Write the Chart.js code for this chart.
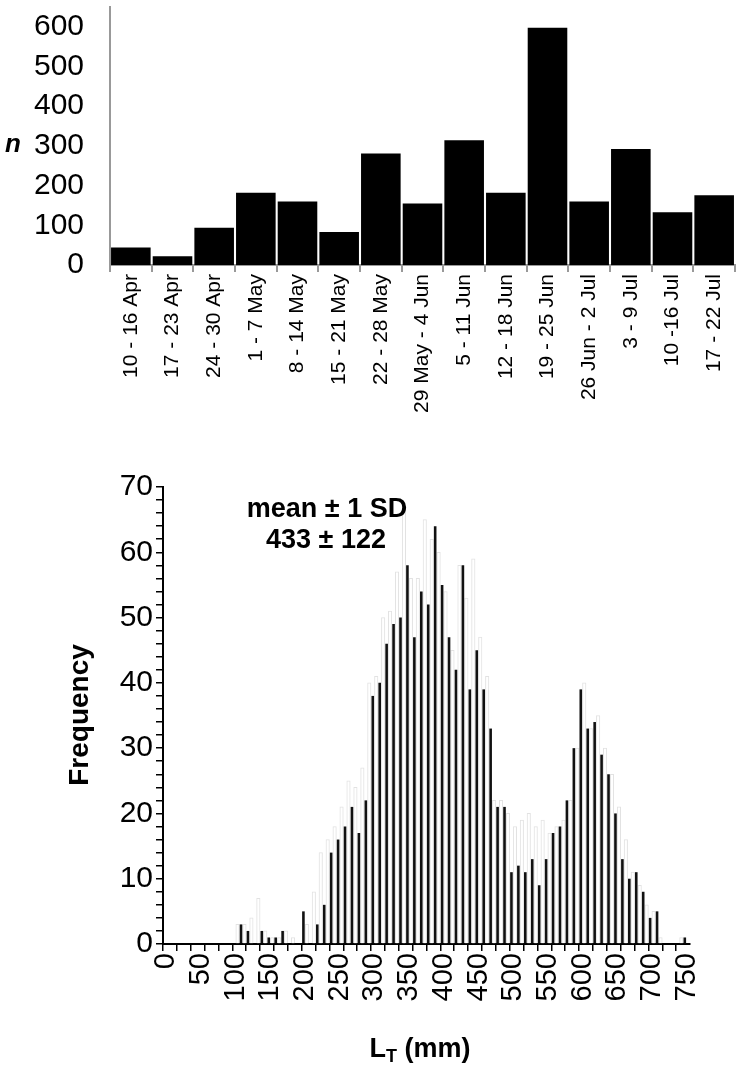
<!DOCTYPE html>
<html>
<head>
<meta charset="utf-8">
<script src="https://cdn.jsdelivr.net/npm/chart.js@4.4.1/dist/chart.umd.min.js"></script>
<style>
  body { margin: 0; background: #fff; }
  #wrap { position: relative; width: 748px; height: 1076px; }
  #top { position: absolute; left: 0; top: 0; }
  #bottom { position: absolute; left: 0; top: 440px; }
</style>
</head>
<body>
<div id="wrap">
  <canvas id="top" width="748" height="430"></canvas>
  <canvas id="bottom" width="748" height="636"></canvas>
</div>
<script>
// weekly catch
var weeks = ['10 - 16 Apr', '17 - 23 Apr', '24 - 30 Apr', '1 - 7 May', '8 - 14 May', '15 - 21 May',
  '22 - 28 May', '29 May - 4 Jun', '5 - 11 Jun', '12 - 18 Jun', '19 - 25 Jun', '26 Jun - 2 Jul',
  '3 - 9 Jul', '10 -16 Jul', '17 - 22 Jul'];
var weeklyN = [44, 22, 94, 182, 160, 83, 281, 155, 314, 182, 598, 160, 292, 133, 176];

// length histogram, 10 mm bins
var lengthBins = ['0', '10', '20', '30', '40', '50', '60', '70', '80', '90',
  '100', '110', '120', '130', '140', '150', '160', '170', '180', '190',
  '200', '210', '220', '230', '240', '250', '260', '270', '280', '290',
  '300', '310', '320', '330', '340', '350', '360', '370', '380', '390',
  '400', '410', '420', '430', '440', '450', '460', '470', '480', '490',
  '500', '510', '520', '530', '540', '550', '560', '570', '580', '590',
  '600', '610', '620', '630', '640', '650', '660', '670', '680', '690',
  '700', '710', '720', '730', '740', '750'];
var freqA = [0, 0, 0, 0, 0, 0, 0, 0, 0, 0,
  0, 3, 2, 0, 2, 1, 1, 2, 0, 0,
  5, 0, 3, 6, 14, 16, 18, 21, 17, 22,
  38, 40, 46, 49, 50, 58, 47, 54, 52, 64,
  55, 47, 42, 58, 39, 45, 39, 33, 21, 21,
  11, 12, 11, 13, 9, 13, 17, 18, 22, 30,
  39, 33, 34, 29, 26, 20, 13, 10, 11, 8,
  4, 5, 0, 0, 0, 1];
var freqB = [0, 0, 0, 0, 0, 0, 0, 0, 0, 0,
  3, 3, 4, 7, 2, 1, 1, 2, 1, 0,
  3, 8, 14, 16, 18, 21, 25, 24, 27, 40,
  41, 50, 51, 57, 67, 56, 56, 65, 62, 60,
  54, 45, 58, 53, 59, 47, 41, 22, 22, 20,
  18, 19, 20, 18, 19, 17, 18, 19, 22, 30,
  40, 33, 35, 30, 26, 21, 16, 11, 9, 6,
  5, 1, 0, 0, 1, 0];

var FONT = 'Liberation Sans';

function makeTexts(items) {
  return {
    id: 'texts',
    afterDraw: function(chart) {
      var ctx = chart.ctx;
      items.forEach(function(t) {
        ctx.save();
        ctx.fillStyle = '#000';
        ctx.textBaseline = 'middle';
        ctx.translate(t.x, t.y);
        if (t.rot) ctx.rotate(t.rot);
        if (t.sub) {
          // main letter + subscript + rest
          ctx.font = t.font;
          var w1 = ctx.measureText(t.text).width;
          ctx.font = t.subFont;
          var w2 = ctx.measureText(t.sub).width;
          ctx.font = t.font;
          var w3 = ctx.measureText(t.rest).width;
          var x0 = -(w1 + w2 + w3) / 2;
          ctx.textAlign = 'left';
          ctx.fillText(t.text, x0, 0);
          ctx.font = t.subFont;
          ctx.fillText(t.sub, x0 + w1, 7);
          ctx.font = t.font;
          ctx.fillText(t.rest, x0 + w1 + w2, 0);
        } else {
          ctx.font = t.font;
          ctx.textAlign = 'center';
          ctx.fillText(t.text, 0, 0);
        }
        ctx.restore();
      });
    }
  };
}

new Chart(document.getElementById('top'), {
  type: 'bar',
  data: {
    labels: weeks,
    datasets: [{
      data: weeklyN,
      backgroundColor: '#000',
      categoryPercentage: 1,
      barPercentage: 0.95
    }]
  },
  options: {
    responsive: false,
    animation: false,
    layout: { padding: { top: 7, right: 13, left: 0, bottom: 0 } },
    plugins: { legend: { display: false }, tooltip: { enabled: false } },
    scales: {
      x: {
        grid: { display: true, drawOnChartArea: false, offset: true, tickLength: 7, color: '#999', lineWidth: 2 },
        border: { color: '#999', width: 2 },
        ticks: {
          color: '#000', autoSkip: false, minRotation: 90, maxRotation: 90, padding: 2,
          font: { family: FONT, size: 21 }
        },
        afterFit: function(s) { s.height = 165; }
      },
      y: {
        min: 0, max: 650,
        grid: { display: false },
        border: { color: '#999', width: 2 },
        ticks: {
          stepSize: 100, color: '#000', padding: 18, autoSkip: false, includeBounds: false,
          font: { family: FONT, size: 30 }
        },
        afterFit: function(s) { s.width = 110; s.paddingTop = 0; s.paddingBottom = 0; }
      }
    }
  },
  plugins: [makeTexts([
    { text: 'n', x: 13, y: 145, font: 'italic bold 26px "Liberation Sans"' }
  ])]
});

new Chart(document.getElementById('bottom'), {
  type: 'bar',
  data: {
    labels: lengthBins,
    datasets: [{
      data: freqA,
      backgroundColor: '#111',
      categoryPercentage: 1,
      barPercentage: 0.75
    }, {
      data: freqB,
      backgroundColor: '#fff',
      borderColor: '#e2e2e2',
      borderWidth: 1,
      categoryPercentage: 1,
      barPercentage: 1
    }]
  },
  options: {
    responsive: false,
    animation: false,
    layout: { padding: { top: 47, right: 58, left: 0, bottom: 0 } },
    plugins: { legend: { display: false }, tooltip: { enabled: false } },
    scales: {
      x: {
        grid: {
          display: true, drawOnChartArea: false, offset: true, tickLength: 7, lineWidth: 1.5,
          color: function(c) { return c.index % 2 === 0 ? '#000' : 'rgba(0,0,0,0)'; }
        },
        border: { color: '#000', width: 2 },
        ticks: {
          color: '#000', autoSkip: false, minRotation: 90, maxRotation: 90, padding: 2,
          font: { family: FONT, size: 29 },
          callback: function(v, i) { return i % 5 === 0 ? lengthBins[i] : ''; }
        },
        afterFit: function(s) { s.height = 132; }
      },
      y: {
        min: 0, max: 70,
        grid: { display: true, drawOnChartArea: false, tickLength: 7, color: '#000', lineWidth: 1.5 },
        border: { color: '#000', width: 2 },
        ticks: {
          stepSize: 2, color: '#000', padding: 3, autoSkip: false,
          font: { family: FONT, size: 30 },
          callback: function(v) { return v % 10 === 0 ? v : ''; }
        },
        afterFit: function(s) { s.width = 163; }
      }
    }
  },
  plugins: [makeTexts([
    { text: 'Frequency', x: 80, y: 275, rot: -Math.PI / 2, font: 'bold 28px "Liberation Sans"' },
    { text: 'mean \u00b1 1 SD', x: 327, y: 70, font: 'bold 27px "Liberation Sans"' },
    { text: '433 \u00b1 122', x: 326, y: 101, font: 'bold 27px "Liberation Sans"' },
    { text: 'L', sub: 'T', rest: ' (mm)', x: 420, y: 610, font: 'bold 27px "Liberation Sans"', subFont: 'bold 18px "Liberation Sans"' }
  ])]
});
</script>
</body>
</html>
